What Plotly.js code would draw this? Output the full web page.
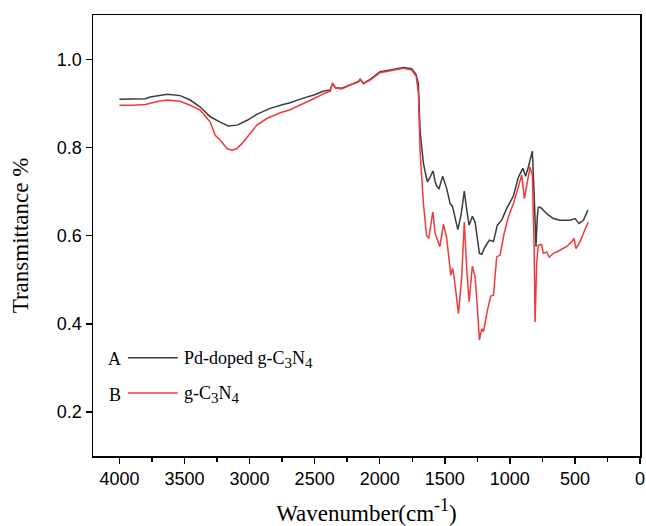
<!DOCTYPE html>
<html>
<head>
<meta charset="utf-8">
<script src="https://cdn.plot.ly/plotly-3.0.1.min.js"></script>
<style>html,body{margin:0;padding:0;background:#fff;}#chart{width:646px;height:526px;}</style>
</head>
<body>
<div id="chart"></div>
<script>
// Series A: Pd-doped g-C3N4 (wavenumber, transmittance)
const waveA = [4000,3900,3800,3763,3700,3633,3533,3456,3379,3302,3226,3164,3095,3018,2941,2842,2742,2688,2611,2500,2435,2380,2363,2340,2291,2227,2163,2150,2125,2074,1997,1920,1818,1754,1720,1703,1690,1677,1664,1651,1633,1613,1590,1574,1559,1544,1516,1485,1459,1441,1421,1400,1375,1350,1331,1313,1288,1267,1234,1216,1190,1157,1126,1096,1062,1024,973,934,900,879,858,845,827,814,806,799,790,782,773,756,717,666,614,538,499,468,435,400];
const transA = [0.910,0.910,0.911,0.915,0.918,0.921,0.918,0.908,0.892,0.870,0.858,0.849,0.851,0.862,0.876,0.889,0.898,0.902,0.910,0.920,0.928,0.931,0.945,0.936,0.935,0.943,0.950,0.955,0.946,0.955,0.972,0.976,0.982,0.979,0.966,0.945,0.840,0.800,0.764,0.745,0.722,0.733,0.747,0.722,0.711,0.707,0.735,0.707,0.673,0.667,0.639,0.614,0.647,0.701,0.658,0.624,0.644,0.631,0.560,0.558,0.575,0.590,0.587,0.624,0.636,0.662,0.690,0.733,0.753,0.735,0.756,0.771,0.792,0.700,0.620,0.575,0.640,0.664,0.665,0.662,0.650,0.639,0.635,0.635,0.639,0.628,0.635,0.658];

// Series B: g-C3N4
const waveB = [4000,3900,3800,3763,3700,3633,3533,3456,3379,3302,3264,3226,3174,3133,3097,3059,3008,2944,2867,2765,2688,2611,2500,2435,2380,2363,2340,2291,2227,2163,2150,2125,2074,1997,1920,1818,1754,1720,1703,1690,1664,1640,1623,1592,1574,1559,1538,1510,1485,1454,1441,1428,1395,1370,1350,1331,1313,1288,1267,1250,1234,1216,1203,1172,1147,1126,1101,1075,1044,1011,973,934,909,888,865,845,827,814,806,794,782,756,743,717,697,666,640,614,589,563,525,507,492,461,430,397];
const transB = [0.896,0.896,0.898,0.901,0.905,0.908,0.905,0.896,0.885,0.858,0.828,0.817,0.798,0.794,0.798,0.809,0.828,0.851,0.866,0.879,0.886,0.896,0.912,0.922,0.928,0.947,0.935,0.933,0.942,0.949,0.955,0.945,0.953,0.970,0.974,0.980,0.976,0.962,0.925,0.794,0.673,0.600,0.594,0.654,0.605,0.594,0.575,0.626,0.594,0.510,0.526,0.506,0.423,0.506,0.631,0.522,0.450,0.531,0.506,0.438,0.363,0.389,0.382,0.431,0.463,0.465,0.552,0.556,0.605,0.643,0.673,0.711,0.738,0.684,0.722,0.756,0.737,0.582,0.404,0.537,0.578,0.580,0.560,0.563,0.551,0.560,0.563,0.567,0.571,0.576,0.586,0.594,0.571,0.586,0.609,0.631];

const sub = d => '<sub><span style="font-size:15px">' + d + '</span></sub>';
const seriesNames = ['Pd-doped g-C' + sub('3') + 'N' + sub('4'), 'g-C' + sub('3') + 'N' + sub('4')];
const seriesLetters = ['A', 'B'];
const seriesColors = ['#3c3c3c', '#f03a3a'];
const xTicks = [4000,3500,3000,2500,2000,1500,1000,500,0];
const yTicks = [0.2,0.4,0.6,0.8,1.0];

const traces = [
  {x: waveA, y: transA, type: 'scatter', mode: 'lines', name: 'Pd-doped g-C3N4', line: {color: seriesColors[0], width: 1.5}, showlegend: false},
  {x: waveB, y: transB, type: 'scatter', mode: 'lines', name: 'g-C3N4', line: {color: seriesColors[1], width: 1.5}, showlegend: false}
];

const serif = 'Liberation Serif, Times New Roman, serif';
const sans = 'Liberation Sans, Arial, sans-serif';

// legend drawn in paper coords
const legY = [0.223, 0.143];
const shapes = [];
const annotations = [];
for (let i = 0; i < 2; i++) {
  shapes.push({type: 'line', xref: 'paper', yref: 'paper', x0: 0.064, x1: 0.155, y0: legY[i], y1: legY[i], line: {color: seriesColors[i], width: 1.5}});
  annotations.push({xref: 'paper', yref: 'paper', x: 0.040, y: legY[i] - 0.004, xanchor: 'center', yanchor: 'middle', showarrow: false, text: seriesLetters[i], font: {family: serif, size: 18, color: '#000'}});
  annotations.push({xref: 'paper', yref: 'paper', x: 0.163, y: legY[i] - 0.004, xanchor: 'left', yanchor: 'middle', showarrow: false, text: seriesNames[i], font: {family: serif, size: 18, color: '#000'}});
}

const layout = {
  width: 646, height: 526,
  margin: {l: 93, r: 6, t: 15, b: 70},
  paper_bgcolor: '#fff', plot_bgcolor: '#fff',
  showlegend: false,
  xaxis: {
    range: [4203, 0], tickvals: xTicks, ticktext: xTicks.map(String),
    ticks: 'outside', ticklen: 6, tickwidth: 1.5, tickcolor: '#000',
    minor: {dtick: 250, tick0: 0, ticks: 'outside', ticklen: 4, tickwidth: 1.5, tickcolor: '#000'},
    showline: true, linecolor: '#000', linewidth: 1.5, mirror: true,
    showgrid: false, zeroline: false,
    tickfont: {family: sans, size: 18, color: '#000'},
    title: {text: 'Wavenumber(cm<sup><span style="font-size:18px">-1</span></sup>)', font: {family: serif, size: 23, color: '#000'}, standoff: 20}
  },
  yaxis: {
    range: [0.1, 1.101], tickvals: yTicks, ticktext: yTicks.map(v => v.toFixed(1)),
    ticks: 'outside', ticklen: 6, tickwidth: 1.5, tickcolor: '#000',
    showline: true, linecolor: '#000', linewidth: 1.5, mirror: true,
    showgrid: false, zeroline: false,
    tickfont: {family: sans, size: 18, color: '#000'},
    title: {text: 'Transmittance %', font: {family: serif, size: 23, color: '#000'}, standoff: 22}
  },
  shapes: shapes,
  annotations: annotations
};

Plotly.newPlot('chart', traces, layout, {displayModeBar: false, staticPlot: true});
</script>
</body>
</html>
